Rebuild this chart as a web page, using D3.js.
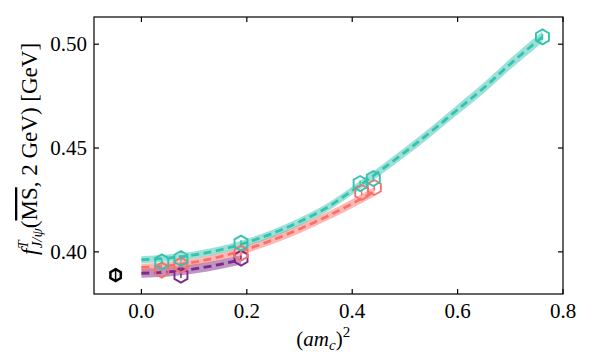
<!DOCTYPE html>
<html>
<head>
<meta charset="utf-8">
<script src="https://cdn.jsdelivr.net/npm/d3@7"></script>
<style>
  body { margin: 0; background: #fff; }
  text { font-family: "Liberation Serif", "DejaVu Serif", serif; }
</style>
</head>
<body>
<div id="chart"></div>
<script>
// x positions of the lattice points, (am_c)^2
const tealX = [0.0386, 0.075, 0.189, 0.415, 0.44, 0.761];
const tealY = [0.3952, 0.3968, 0.4042, 0.4329, 0.4353, 0.5035];
const pinkX = [0.0386, 0.075, 0.189, 0.418, 0.442];
const pinkY = [0.3912, 0.3936, 0.3994, 0.4286, 0.4310];
const purpleX = [0.075, 0.189];
const purpleY = [0.3888, 0.3970];
const physX = [-0.049];
const physY = [0.3888];

// fit curves (centre, half width of band)
const tealFitX = [0, 0.05, 0.1, 0.15, 0.2, 0.25, 0.3, 0.35, 0.4, 0.45, 0.5, 0.55, 0.6, 0.65, 0.7, 0.761];
const tealFitY = [0.3962, 0.397, 0.3985, 0.401, 0.4045, 0.409, 0.4145, 0.421, 0.4295, 0.4385, 0.448, 0.458, 0.4685, 0.479, 0.4905, 0.5035];
const tealFitE = [0.0017, 0.0017, 0.0017, 0.0017, 0.0017, 0.0018, 0.0018, 0.0019, 0.002, 0.0021, 0.0022, 0.0023, 0.0024, 0.0025, 0.0026, 0.0027];
const pinkFitX = [0, 0.05, 0.1, 0.15, 0.2, 0.25, 0.3, 0.35, 0.4, 0.442];
const pinkFitY = [0.3925, 0.3933, 0.395, 0.3977, 0.4013, 0.4058, 0.411, 0.4168, 0.4232, 0.4290];
const pinkFitE = [0.0018, 0.0018, 0.0018, 0.0018, 0.0018, 0.0019, 0.002, 0.002, 0.0021, 0.0022];
const purpleFitX = [0, 0.05, 0.1, 0.15, 0.189];
const purpleFitY = [0.3897, 0.3903, 0.3918, 0.394, 0.3962];
const purpleFitE = [0.0022, 0.0022, 0.0022, 0.0022, 0.0023];

const xTicks = [0.0, 0.2, 0.4, 0.6, 0.8];
const yTicks = [0.40, 0.45, 0.50];

const width = 592, height = 352;
const frame = { left: 94, right: 563, top: 17, bottom: 294 };

const svg = d3.select("#chart").append("svg")
    .attr("width", width)
    .attr("height", height);

const x = d3.scaleLinear().domain([-0.09, 0.8]).range([frame.left, frame.right]);
const y = d3.scaleLinear().domain([0.3797, 0.5131]).range([frame.bottom, frame.top]);

const teal = "#35c3b0", pink = "#f9716a", purple = "#7b2a87";

// bands and dashed fits
const drawFit = (xs, ys, es, col) => {
    const pts = xs.map((v, i) => ({ x: v, y: ys[i], e: es[i] }));
    svg.append("path")
        .datum(pts)
        .attr("d", d3.area().curve(d3.curveMonotoneX)
            .x(d => x(d.x)).y0(d => y(d.y - d.e)).y1(d => y(d.y + d.e)))
        .attr("fill", col)
        .attr("fill-opacity", 0.5);
    svg.append("path")
        .datum(pts)
        .attr("d", d3.line().curve(d3.curveMonotoneX).x(d => x(d.x)).y(d => y(d.y)))
        .attr("fill", "none")
        .attr("stroke", col)
        .attr("stroke-width", 2.8)
        .attr("stroke-dasharray", "8,4.5");
};
drawFit(purpleFitX, purpleFitY, purpleFitE, purple);
drawFit(pinkFitX, pinkFitY, pinkFitE, pink);
drawFit(tealFitX, tealFitY, tealFitE, teal);

// hexagon marker, vertex at top
const hex = r => {
    const p = d3.path();
    for (let k = 0; k < 6; k++) {
        const a = -Math.PI / 2 + k * Math.PI / 3;
        k === 0 ? p.moveTo(r * Math.cos(a), r * Math.sin(a)) : p.lineTo(r * Math.cos(a), r * Math.sin(a));
    }
    p.closePath();
    return p.toString();
};

const drawPoints = (xs, ys, col, r, sw, errLen) => {
    const g = svg.append("g");
    xs.forEach((v, i) => {
        const cx = x(v), cy = y(ys[i]);
        g.append("line")
            .attr("x1", cx).attr("x2", cx)
            .attr("y1", cy - errLen).attr("y2", cy + errLen)
            .attr("stroke", col).attr("stroke-width", 1.5);
        g.append("path")
            .attr("d", hex(r))
            .attr("transform", `translate(${cx},${cy})`)
            .attr("fill", "none")
            .attr("stroke", col)
            .attr("stroke-width", sw);
    });
};
drawPoints(purpleX, purpleY, purple, 7.5, 1.9, 3);
drawPoints(pinkX, pinkY, pink, 7.5, 1.9, 3);
drawPoints(tealX, tealY, teal, 7.5, 1.9, 3);
drawPoints(physX, physY, "#000", 6, 2.5, 6.5);

// frame and ticks (inward, on all sides)
svg.append("rect")
    .attr("x", frame.left).attr("y", frame.top)
    .attr("width", frame.right - frame.left).attr("height", frame.bottom - frame.top)
    .attr("fill", "none").attr("stroke", "#000").attr("stroke-width", 1.2);

const tl = 5;
const ax = svg.append("g").attr("stroke", "#000").attr("stroke-width", 1.2);
xTicks.forEach(t => {
    ax.append("line").attr("x1", x(t)).attr("x2", x(t)).attr("y1", frame.bottom).attr("y2", frame.bottom - tl);
    ax.append("line").attr("x1", x(t)).attr("x2", x(t)).attr("y1", frame.top).attr("y2", frame.top + tl);
});
yTicks.forEach(t => {
    ax.append("line").attr("x1", frame.left).attr("x2", frame.left + tl).attr("y1", y(t)).attr("y2", y(t));
    ax.append("line").attr("x1", frame.right).attr("x2", frame.right - tl).attr("y1", y(t)).attr("y2", y(t));
});

svg.append("g").selectAll("text")
    .data(xTicks)
    .join("text")
    .attr("x", d => x(d))
    .attr("y", 318)
    .attr("text-anchor", "middle")
    .style("font-size", "21px")
    .text(d => d.toFixed(1));

svg.append("g").selectAll("text")
    .data(yTicks)
    .join("text")
    .attr("x", 87)
    .attr("y", d => y(d) + 7)
    .attr("text-anchor", "end")
    .style("font-size", "21px")
    .text(d => d.toFixed(2));

// axis labels
const xl = svg.append("text")
    .attr("x", x(0.345))
    .attr("y", 346)
    .attr("text-anchor", "middle")
    .style("font-size", "21px");
xl.append("tspan").text("(");
xl.append("tspan").style("font-style", "italic").text("am");
xl.append("tspan").style("font-style", "italic").style("font-size", "15px").attr("dy", 4).text("c");
xl.append("tspan").attr("dy", -4).text(")");
xl.append("tspan").style("font-size", "15px").attr("dy", -9).text("2");

const yl = svg.append("text")
    .attr("transform", `translate(37, 149) rotate(-90)`)
    .attr("text-anchor", "middle")
    .style("font-size", "23px");
yl.append("tspan").style("font-style", "italic").text("f");
yl.append("tspan").style("font-style", "italic").style("font-size", "15px").attr("dy", -9).text("T");
yl.append("tspan").style("font-style", "italic").style("font-size", "15px").attr("dx", -8).attr("dy", 14).text("J/ψ");
yl.append("tspan").attr("dy", -5).text("(");
yl.append("tspan").style("text-decoration", "overline").text("MS");
yl.append("tspan").text(", 2 GeV) [GeV]");
</script>
</body>
</html>
